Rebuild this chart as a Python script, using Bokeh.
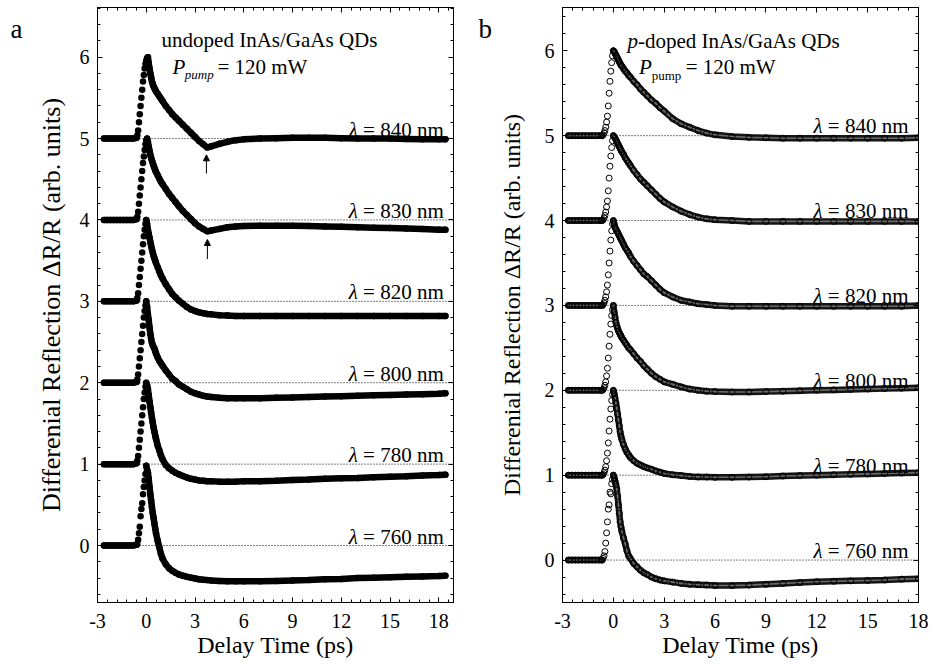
import math
from bokeh.plotting import figure
from bokeh.models import (ColumnDataSource, Span, Label, LinearAxis, FixedTicker,
                          Range1d, Arrow, NormalHead, CustomJSTickFormatter)
from bokeh.layouts import row
from bokeh.embed import file_html
from bokeh.resources import INLINE
from bokeh.core.properties import value

FONT = "Liberation Serif"

# ------------------------------------------------------------------ data
WAVELENGTHS = ["760", "780", "800", "820", "830", "840"]
OFFSETS = [0, 1, 2, 3, 4, 5]
X_TICKS = [-3, 0, 3, 6, 9, 12, 15, 18]
Y_TICKS = [0, 1, 2, 3, 4, 5, 6]

# panel a : undoped (filled dots)
T_A = [-2.6, -2.4, -2.2, -2.0, -1.8, -1.6, -1.4, -1.2, -1.0, -0.8, -0.6,
       -0.55, -0.5, -0.45, -0.4, -0.35, -0.3, -0.25, -0.2, -0.15, -0.1, -0.05, 0.0, 0.05,
       0.1, 0.15, 0.2, 0.25, 0.3, 0.35, 0.4, 0.45, 0.5, 0.55, 0.6,
       0.7, 0.8, 0.9, 1.0,
       1.2, 1.4, 1.6, 1.8, 2.0,
       2.25, 2.5, 2.75, 3.0, 3.25, 3.5, 3.75, 4.0,
       4.5, 5.0, 5.5, 6.0,
       7, 8, 9, 10, 11, 12, 13, 14, 15, 16, 17, 18,
       18.4]

A_840 = [5.0, 5.0, 5.0, 5.0, 5.0, 5.0, 5.0, 5.0, 5.0, 5.0, 5.01,
         5.04, 5.1, 5.2, 5.3, 5.4, 5.5, 5.6, 5.7, 5.78, 5.86, 5.92, 5.96, 5.99,
         6.0, 5.93, 5.86, 5.8, 5.75, 5.7, 5.67, 5.64, 5.62, 5.6, 5.58,
         5.55, 5.52, 5.49, 5.46,
         5.4, 5.35, 5.3, 5.26, 5.22,
         5.17, 5.12, 5.07, 5.02, 4.97, 4.93, 4.89, 4.905,
         4.935, 4.96, 4.98, 4.99,
         5.0, 5.005, 5.01, 5.01, 5.01, 5.005, 5.0, 5.0, 5.0, 4.995, 4.99, 4.99,
         4.99]
A_830 = [4.0, 4.0, 4.0, 4.0, 4.0, 4.0, 4.0, 4.0, 4.0, 4.0, 4.01,
         4.04, 4.1, 4.2, 4.3, 4.4, 4.5, 4.6, 4.7, 4.78, 4.86, 4.93, 4.98, 5.0,
         4.96, 4.9, 4.85, 4.8, 4.76, 4.73, 4.7, 4.67, 4.64, 4.61, 4.59,
         4.55, 4.51, 4.47, 4.44,
         4.38, 4.32, 4.27, 4.22, 4.17,
         4.11, 4.06, 4.01, 3.96, 3.92, 3.89, 3.86, 3.87,
         3.89, 3.91, 3.92, 3.925,
         3.93, 3.93, 3.93, 3.925, 3.92, 3.915, 3.91, 3.905, 3.9, 3.895, 3.89, 3.88,
         3.88]
A_820 = [3.0, 3.0, 3.0, 3.0, 3.0, 3.0, 3.0, 3.0, 3.0, 3.0, 3.01,
         3.04, 3.1, 3.2, 3.3, 3.4, 3.5, 3.6, 3.7, 3.8, 3.88, 3.95, 4.0, 3.95,
         3.88, 3.83, 3.78, 3.73, 3.68, 3.64, 3.6, 3.56, 3.53, 3.5, 3.47,
         3.42, 3.37, 3.32, 3.28,
         3.21, 3.15, 3.09, 3.05, 3.01,
         2.97, 2.93, 2.9, 2.88, 2.865, 2.855, 2.845, 2.84,
         2.83, 2.825, 2.82, 2.82,
         2.82, 2.82, 2.82, 2.82, 2.82, 2.82, 2.82, 2.82, 2.82, 2.82, 2.82, 2.82,
         2.82]
A_800 = [2.0, 2.0, 2.0, 2.0, 2.0, 2.0, 2.0, 2.0, 2.0, 2.0, 2.01,
         2.04, 2.1, 2.2, 2.3, 2.4, 2.5, 2.6, 2.7, 2.8, 2.88, 2.95, 3.0, 2.93,
         2.84, 2.77, 2.68, 2.6, 2.54, 2.49, 2.46, 2.44, 2.42, 2.39, 2.36,
         2.31, 2.27, 2.24, 2.21,
         2.15, 2.1, 2.05, 2.02, 1.98,
         1.95, 1.92, 1.89, 1.87, 1.855, 1.84, 1.83, 1.825,
         1.815, 1.81, 1.81, 1.81,
         1.81, 1.815, 1.82, 1.825, 1.83, 1.835, 1.84, 1.845, 1.85, 1.855, 1.86, 1.865,
         1.87]
A_780 = [1.0, 1.0, 1.0, 1.0, 1.0, 1.0, 1.0, 1.0, 1.0, 1.0, 1.01,
         1.04, 1.1, 1.2, 1.3, 1.4, 1.5, 1.6, 1.7, 1.8, 1.88, 1.95, 2.0, 1.97,
         1.92, 1.85, 1.77, 1.7, 1.63, 1.57, 1.51, 1.45, 1.4, 1.35, 1.31,
         1.23, 1.17, 1.11, 1.06,
         0.99, 0.95, 0.92, 0.895, 0.875,
         0.855, 0.835, 0.82, 0.81, 0.8, 0.795, 0.79, 0.79,
         0.785, 0.785, 0.785, 0.79,
         0.79, 0.795, 0.805, 0.81, 0.82, 0.825, 0.83, 0.84, 0.845, 0.85, 0.86, 0.865,
         0.87]
A_760 = [0.0, 0.0, 0.0, 0.0, 0.0, 0.0, 0.0, 0.0, 0.0, 0.0, 0.01,
         0.02, 0.07, 0.15, 0.23, 0.36, 0.45, 0.52, 0.63, 0.72, 0.8, 0.88, 0.98, 0.93,
         0.9, 0.82, 0.72, 0.63, 0.55, 0.47, 0.4, 0.34, 0.27, 0.21, 0.15,
         0.06, -0.02, -0.1, -0.16,
         -0.23, -0.28, -0.31, -0.335, -0.355,
         -0.37, -0.385, -0.395, -0.405, -0.415, -0.42, -0.425, -0.43,
         -0.435, -0.44, -0.44, -0.44,
         -0.44, -0.435, -0.43, -0.425, -0.415, -0.41, -0.4, -0.395, -0.39, -0.385, -0.38, -0.375,
         -0.37]

# panel b : p-doped (open circles)
T_B = [-2.65, -2.45, -2.25, -2.05, -1.85, -1.65, -1.45, -1.25, -1.05, -0.85, -0.7,
       -0.65, -0.6, -0.55, -0.5, -0.45, -0.4, -0.35, -0.3, -0.25, -0.2, -0.15, -0.1, -0.05,
       0.0, 0.05, 0.1, 0.15, 0.2, 0.25, 0.3, 0.35, 0.4, 0.45, 0.5,
       0.6, 0.7, 0.8, 0.9, 1.0,
       1.2, 1.4, 1.6, 1.8, 2.0,
       2.25, 2.5, 2.75, 3.0,
       3.5, 4.0, 4.5, 5.0, 5.5, 6.0,
       7, 8, 9, 10, 11, 12, 13, 14, 15, 16, 17, 18]

B_840 = [5.0, 5.0, 5.0, 5.0, 5.0, 5.0, 5.0, 5.0, 5.0, 5.0, 5.0,
         5.0, 5.01, 5.03, 5.06, 5.1, 5.16, 5.23, 5.35, 5.5, 5.64, 5.76, 5.86, 5.94,
         6.0, 5.99, 5.97, 5.95, 5.93, 5.91, 5.89, 5.87, 5.85, 5.83, 5.82,
         5.79, 5.76, 5.74, 5.71, 5.69,
         5.64, 5.6, 5.55, 5.51, 5.47,
         5.42, 5.38, 5.33, 5.29,
         5.2, 5.14, 5.1, 5.06, 5.03, 5.01,
         4.99, 4.98, 4.975, 4.97, 4.97, 4.97, 4.97, 4.97, 4.97, 4.97, 4.97, 4.975]
B_830 = [4.0, 4.0, 4.0, 4.0, 4.0, 4.0, 4.0, 4.0, 4.0, 4.0, 4.0,
         4.0, 4.01, 4.03, 4.06, 4.1, 4.16, 4.23, 4.35, 4.5, 4.64, 4.76, 4.86, 4.94,
         5.0, 4.99, 4.97, 4.95, 4.93, 4.91, 4.89, 4.87, 4.85, 4.83, 4.81,
         4.78, 4.74, 4.71, 4.68, 4.65,
         4.59, 4.54, 4.49, 4.45, 4.41,
         4.36, 4.31, 4.26, 4.22,
         4.16, 4.11, 4.07, 4.04, 4.02, 4.01,
         4.0, 3.99, 3.99, 3.99, 3.99, 3.99, 3.99, 3.99, 3.99, 3.99, 3.99, 3.99]
B_820 = [3.0, 3.0, 3.0, 3.0, 3.0, 3.0, 3.0, 3.0, 3.0, 3.0, 3.0,
         3.0, 3.01, 3.03, 3.06, 3.1, 3.16, 3.24, 3.36, 3.5, 3.64, 3.77, 3.88, 3.96,
         4.0, 3.96, 3.92, 3.9, 3.88, 3.86, 3.84, 3.82, 3.8, 3.78, 3.76,
         3.72, 3.68, 3.65, 3.62, 3.58,
         3.52, 3.47, 3.42, 3.37, 3.34,
         3.29, 3.24, 3.19, 3.15,
         3.1, 3.06, 3.04, 3.02, 3.01, 3.0,
         2.99, 2.99, 2.99, 2.99, 2.99, 2.99, 2.99, 2.99, 2.99, 2.99, 2.99, 3.0]
B_800 = [2.0, 2.0, 2.0, 2.0, 2.0, 2.0, 2.0, 2.0, 2.0, 2.0, 2.0,
         2.0, 2.01, 2.03, 2.06, 2.1, 2.17, 2.26, 2.38, 2.52, 2.66, 2.78, 2.88, 2.95,
         3.0, 2.92, 2.86, 2.8, 2.76, 2.73, 2.7, 2.68, 2.66, 2.64, 2.62,
         2.59, 2.56, 2.53, 2.5, 2.48,
         2.43, 2.38, 2.34, 2.29, 2.25,
         2.2, 2.16, 2.13, 2.1,
         2.07, 2.04, 2.015, 2.0, 1.99, 1.985,
         1.98, 1.98, 1.985, 1.99, 1.995, 2.0, 2.005, 2.01, 2.015, 2.02, 2.025, 2.03]
B_780 = [1.0, 1.0, 1.0, 1.0, 1.0, 1.0, 1.0, 1.0, 1.0, 1.0, 1.0,
         1.0, 1.01, 1.03, 1.06, 1.1, 1.17, 1.26, 1.38, 1.52, 1.66, 1.78, 1.88, 1.95,
         2.0, 1.96, 1.91, 1.85, 1.79, 1.72, 1.65, 1.58, 1.51, 1.46, 1.42,
         1.36, 1.31, 1.27, 1.24, 1.21,
         1.17, 1.14, 1.12, 1.1, 1.085,
         1.07, 1.05, 1.035, 1.02,
         1.005, 0.995, 0.985, 0.98, 0.978, 0.975,
         0.975, 0.978, 0.982, 0.99, 0.995, 1.0, 1.005, 1.01, 1.015, 1.02, 1.025, 1.03]
B_760 = [0.0, 0.0, 0.0, 0.0, 0.0, 0.0, 0.0, 0.0, 0.0, 0.0, 0.0,
         0.0, 0.02, 0.05, 0.1, 0.2, 0.32, 0.45, 0.6, 0.65, 0.8, 0.78, 0.9, 0.95,
         1.0, 0.97, 0.93, 0.89, 0.84, 0.75, 0.65, 0.55, 0.45, 0.39, 0.34,
         0.26, 0.19, 0.11, 0.05, 0.02,
         -0.04, -0.08, -0.12, -0.15, -0.17,
         -0.2, -0.22, -0.235, -0.245,
         -0.26, -0.275, -0.285, -0.29, -0.295, -0.3,
         -0.3, -0.295, -0.285, -0.275, -0.265, -0.255, -0.25, -0.245, -0.24, -0.235, -0.225, -0.22]

SERIES_A = [A_760, A_780, A_800, A_820, A_830, A_840]
SERIES_B = [B_760, B_780, B_800, B_820, B_830, B_840]

# arrows marking the dip (panel a, 840 and 830 nm)
ARROW_T = [3.70, 3.76]
ARROW_FROM = [4.57, 3.52]
ARROW_TO = [4.80, 3.76]

TITLE_A = "undoped InAs/GaAs QDs"
TITLE_B = ("p", "-doped InAs/GaAs QDs")
POWER = ("P", "pump", "= 120 mW")
X_LABEL = "Delay Time (ps)"
Y_LABEL = "Differenial Reflection \u0394R/R (arb. units)"

for s in SERIES_A:
    assert len(s) == len(T_A), len(s)
for s in SERIES_B:
    assert len(s) == len(T_B), len(s)

# ------------------------------------------------------------------ text metrics (Times/Liberation Serif)
W_ROMAN = {' ': .25, '=': .564, 'm': .778, 'n': .5, 'p': .5, 'u': .5,
           '0': .5, '1': .5, '2': .5, '3': .5, '4': .5, '5': .5, '6': .5, '7': .5, '8': .5, '9': .5}
W_ITALIC = {'p': .5, 'P': .611}


def text_w(s, size, italic=False):
    tab = W_ITALIC if italic else W_ROMAN
    return sum(tab.get(c, W_ROMAN.get(c, .5)) for c in s) * size


def minor_ticks(ticks, n, lo, hi):
    step = (ticks[1] - ticks[0]) / n
    k = math.floor((lo - ticks[0]) / step)
    out = []
    while ticks[0] + k * step <= hi + 1e-9:
        out.append(round(ticks[0] + k * step, 6))
        k += 1
    return out


FIG_H = 664
MB_TOP, MB_BOTTOM = 7, 62
PAGE_Y0 = 0


class Panel:
    def __init__(self, width, mb_left, mb_right, xr, yr, page_x0, ylabel_size, ylabel_standoff):
        self.width, self.mbl, self.mbr = width, mb_left, mb_right
        self.xr, self.yr, self.px0 = xr, yr, page_x0
        self.fw = width - mb_left - mb_right
        self.fh = FIG_H - MB_TOP - MB_BOTTOM
        p = figure(width=width, height=FIG_H, x_range=Range1d(*xr), y_range=Range1d(*yr),
                   output_backend="svg", toolbar_location=None,
                   min_border_left=mb_left, min_border_right=mb_right,
                   min_border_top=MB_TOP, min_border_bottom=MB_BOTTOM,
                   background_fill_color="white", border_fill_color="white",
                   outline_line_color="black", outline_line_width=1)
        p.grid.visible = False
        xt = FixedTicker(ticks=X_TICKS, minor_ticks=minor_ticks(X_TICKS, 5, xr[0], xr[1]))
        yt = FixedTicker(ticks=Y_TICKS, minor_ticks=minor_ticks(Y_TICKS, 5, yr[0], yr[1]))
        bottom = p.below[0]
        left = p.left[0]
        bottom.ticker = xt
        left.ticker = yt
        bottom.formatter = CustomJSTickFormatter(code="return String(tick)")
        top = LinearAxis(ticker=xt, formatter=CustomJSTickFormatter(code="return ''"))
        right = LinearAxis(ticker=yt, formatter=CustomJSTickFormatter(code="return ''"))
        p.add_layout(top, "above")
        p.add_layout(right, "right")
        for ax in (bottom, left, top, right):
            ax.major_tick_in = 5
            ax.major_tick_out = 0
            ax.minor_tick_in = 3
            ax.minor_tick_out = 0
            ax.axis_line_color = "black"
            ax.major_tick_line_color = "black"
            ax.minor_tick_line_color = "black"
            ax.major_label_text_font = FONT
            ax.major_label_text_color = "black"
        for ax in (top, right):
            ax.major_label_text_font_size = "0px"
            ax.major_label_standoff = 0
        for ax in (bottom, left):
            ax.major_label_text_font_size = "20px"
            ax.axis_label_text_font = FONT
            ax.axis_label_text_font_style = "normal"
            ax.axis_label_text_color = "black"
        bottom.major_label_standoff = 11
        bottom.axis_label = X_LABEL
        bottom.axis_label_text_font_size = "24px"
        bottom.axis_label_standoff = 1
        left.major_label_standoff = 8
        left.axis_label = Y_LABEL
        left.axis_label_text_font_size = f"{ylabel_size}px"
        left.axis_label_standoff = ylabel_standoff
        self.p = p

    def dx(self, page_x):
        return self.xr[0] + (page_x - self.px0 - self.mbl) / self.fw * (self.xr[1] - self.xr[0])

    def dy(self, page_y):
        return self.yr[1] - (page_y - PAGE_Y0 - MB_TOP) / self.fh * (self.yr[1] - self.yr[0])

    def label(self, x, y, text, size, italic=False, align="left", place=None, **kw):
        lab = Label(x=x, y=y, text=text, text_font=FONT,
                    text_font_size=f"{size}px",
                    text_font_style="italic" if italic else "normal",
                    text_align=align, text_baseline="alphabetic",
                    text_color="black", **kw)
        if place:
            self.p.add_layout(lab, place)
        else:
            self.p.add_layout(lab)


def draw_curves(P, T, series, base_end, filled):
    p = P.p
    for o in OFFSETS:
        p.add_layout(Span(location=o, dimension="width", line_color="black",
                          line_width=1, line_dash="1 2", level="underlay"))
    n_base = sum(1 for t in T if t <= base_end)
    for vals in series:
        ipk = max(range(len(vals)), key=lambda i: vals[i])
        band = dict(line_color="black" if filled else "#141414",
                    line_width=6.5, line_cap="round", line_join="round")
        segs = [(T[:n_base], vals[:n_base]), (T[ipk:], vals[ipk:])]
        for xs, ys in segs:
            p.line(x=xs, y=ys, **band)
            if not filled:
                # lighter core: overlapping open circles
                p.line(x=xs, y=ys, line_color="#6a6a6a", line_width=1.6,
                       line_cap="round", line_join="round")
        if filled:
            p.scatter(x=T, y=vals, marker="circle", size=6.5, fill_color="black",
                      line_color=None)
        else:
            p.scatter(x=T, y=vals, marker="circle", size=6, fill_color=None,
                      line_color="black", line_width=1)


def lambda_labels(P, x_right, size):
    p = P.p
    src = ColumnDataSource(dict(x=[x_right] * len(OFFSETS),
                                y=[o + 0.11 for o in OFFSETS],
                                rest=[f"= {w} nm" for w in WAVELENGTHS],
                                lam=["\u03bb"] * len(OFFSETS)))
    common = dict(source=src, text_font=value(FONT), text_font_size=f"{size}px",
                  text_align="right", text_baseline="alphabetic", text_color="black")
    p.text(x="x", y="y", text="rest", **common)
    p.text(x="x", y="y", text="lam", text_font_style="italic",
           x_offset=-text_w(" = 840 nm", size), **common)


# ------------------------------------------------------------------ panel a
A = Panel(465, 97, 12, (-3, 18.9), (-0.70, 6.61), 0, 26, 11)
draw_curves(A, T_A, SERIES_A, -0.6, True)
lambda_labels(A, 18.3, 21)
for t, v0, v1 in zip(ARROW_T, ARROW_FROM, ARROW_TO):
    A.p.add_layout(Arrow(end=NormalHead(size=6, fill_color="black", line_color="black",
                                        line_width=1),
                         x_start=t, y_start=v0, x_end=t, y_end=v1,
                         line_color="black", line_width=1))
A.label(7.58, 6.21, TITLE_A, 21, align="center")
A.label(1.61, 5.877, POWER[0], 21, italic=True)
A.label(1.61, 5.877, POWER[1], 13, italic=True, x_offset=12.3, y_offset=-7.3)
A.label(1.61, 5.877, POWER[2], 21, x_offset=45)
A.label(A.dx(10), A.dy(28), "a", 27, place="left")

# ------------------------------------------------------------------ panel b
B = Panel(465, 97, 12, (-3, 18.0), (-0.50, 6.51), 465, 24, 17)
draw_curves(B, T_B, SERIES_B, -0.7, False)
lambda_labels(B, 17.41, 21)
B.label(0.828, 6.12, TITLE_B[0], 21, italic=True)
B.label(0.828, 6.12, TITLE_B[1], 21, x_offset=text_w("p", 21, True))
B.label(1.51, 5.805, POWER[0], 21, italic=True)
B.label(1.51, 5.805, POWER[1], 13, x_offset=12.7, y_offset=-8.3)
B.label(1.51, 5.805, POWER[2], 21, x_offset=46.7)
B.label(B.dx(478), B.dy(28), "b", 27, place="left")

layout = row(A.p, B.p)
open("out.html", "w").write(file_html(layout, INLINE))
